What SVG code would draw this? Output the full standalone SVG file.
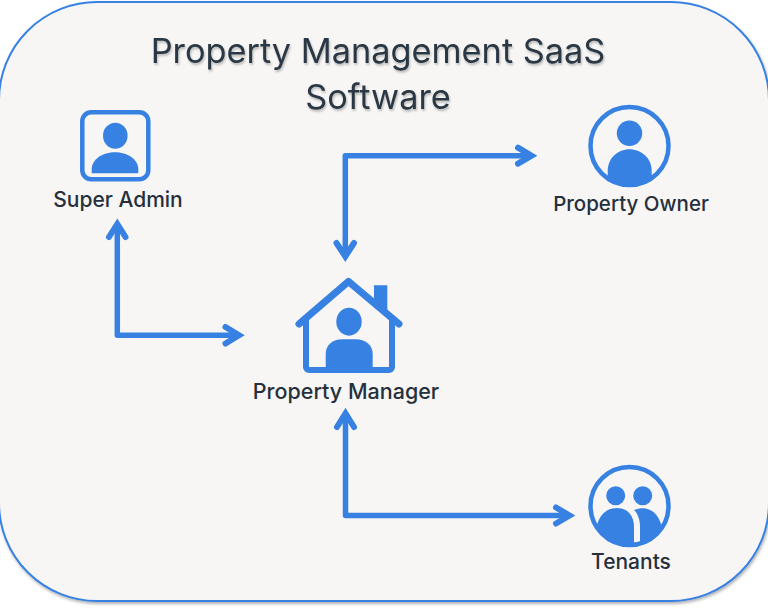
<svg xmlns="http://www.w3.org/2000/svg" width="768" height="609" viewBox="0 0 768 609">
<defs>
<filter id="ts" x="-5%" y="-20%" width="110%" height="140%"><feDropShadow dx="1" dy="2" stdDeviation="1.2" flood-color="#000" flood-opacity="0.25"/></filter>
<filter id="bs" x="-3%" y="-3%" width="106%" height="106%"><feDropShadow dx="1" dy="2" stdDeviation="1.5" flood-color="#000" flood-opacity="0.3"/></filter>
<clipPath id="co"><circle cx="629.500" cy="146" r="40"/></clipPath>
<clipPath id="ct"><circle cx="629.500" cy="506" r="40"/></clipPath>
</defs>
<style>
.lb{font-family:"Inter","Liberation Sans",sans-serif;font-size:21px;font-weight:500;fill:#25303c;text-anchor:middle}
.tt{font-family:"Inter","Liberation Sans",sans-serif;font-size:34.300px;fill:#2b3844;text-anchor:middle;filter:url(#ts)}
.ic{fill:#3781e2;stroke:none}
.ol{fill:none;stroke:#3781e2}
.c{fill:none;stroke:#3781e2;stroke-width:5.500;stroke-linejoin:round}
.h{fill:none;stroke:#3781e2;stroke-width:6;stroke-linecap:round;stroke-linejoin:miter;stroke-miterlimit:6}
</style>
<rect width="768" height="609" fill="#fff"/>
<rect x="-1" y="2" width="770" height="599" rx="98" fill="#f7f6f5" stroke="#3781e2" stroke-width="2" filter="url(#bs)"/>
<text class="tt" x="378" y="63">Property Management SaaS</text>
<text class="tt" x="378" y="109">Software</text>
<g id="connectors">
<path class="c" d="M345.300 256V155.700H531"/>
<path class="h" d="M518 147.700L531.500 155.700L518 163.700"/>
<path class="h" d="M336.500 243L345.300 256.500L354 243"/>
<path class="c" d="M117.300 226V335.300H238"/>
<path class="h" d="M109 237L117.300 224L125.500 237"/>
<path class="h" d="M225.500 327L239 335.300L225.500 343.500"/>
<path class="c" d="M345.500 416V515.500H569"/>
<path class="h" d="M337 427L345.500 413.500L354 427"/>
<path class="h" d="M556 507.500L569.500 515.500L556 523.500"/>
</g>
<g id="super-admin">
<rect class="ol" x="82.300" y="112.300" width="66" height="67" rx="9" stroke-width="4.500"/>
<ellipse class="ic" cx="115.300" cy="135.700" rx="12.300" ry="13"/>
<path class="ic" d="M91.700 173.300V169C92 159 103 152.300 115 152.300S138 159 138.300 169V173.300Z"/>
<text class="lb" x="118" y="207">Super Admin</text>
</g>
<g id="property-owner">
<circle class="ol" cx="629.500" cy="146" r="39" stroke-width="4.500"/>
<circle class="ic" cx="629.500" cy="133.300" r="12.700"/>
<path class="ic" clip-path="url(#co)" d="M607.700 190V171C607.700 158 618 149.300 629.500 149.300S651.700 158 651.700 171V190Z"/>
<text class="lb" x="631" y="211" style="font-size:20.500px">Property Owner</text>
</g>
<g id="property-manager">
<path class="ol" d="M299 324L348.500 281.500L399 324" stroke-width="7" stroke-linecap="round" stroke-linejoin="round"/>
<path class="ol" d="M306 318V367A3 3 0 0 0 309 370H389A3 3 0 0 0 392 367V318" stroke-width="6"/>
<path class="ic" d="M374 285.300H387.300V312L374 301Z"/>
<ellipse class="ic" cx="349" cy="321.700" rx="12.700" ry="14"/>
<path class="ic" d="M325.700 370V354C325.700 345 333 339.300 342 339.300H356C365 339.300 372.700 345 372.700 354V370Z"/>
<text class="lb" x="346" y="399" style="font-size:21.500px">Property Manager</text>
</g>
<g id="tenants">
<circle class="ol" cx="629.500" cy="506" r="39" stroke-width="4.500"/>
<circle class="ic" cx="615.700" cy="495.700" r="9.500"/>
<circle class="ic" cx="642.700" cy="495.700" r="9.500"/>
<path class="ic" clip-path="url(#ct)" d="M597 525C600 514 607 508 617 508C628 508 634 516 634 527V550H597Z"/>
<path class="ic" clip-path="url(#ct)" d="M634 510C648 505 657 512 661 524V550H640V527C640 520 638 514 634 510Z"/>
<text class="lb" x="631" y="569">Tenants</text>
</g>
</svg>
